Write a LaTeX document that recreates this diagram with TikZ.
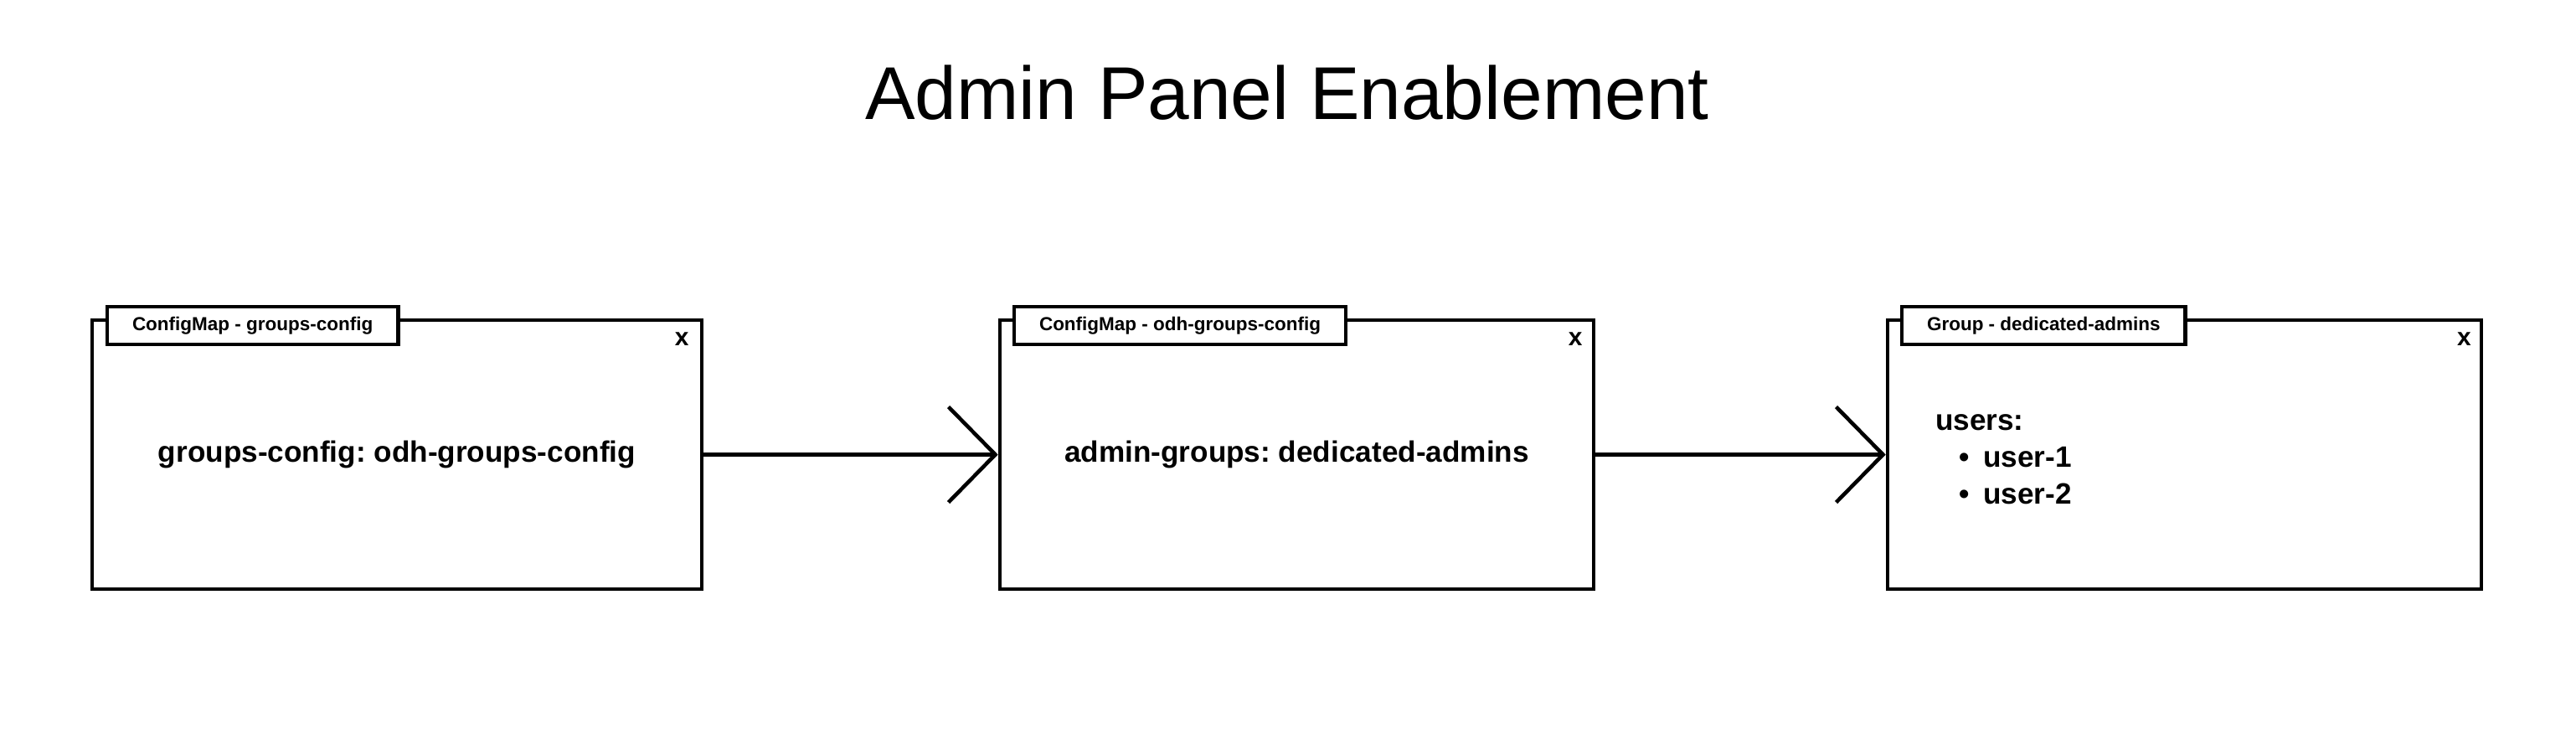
\documentclass[tikz,border=0pt]{standalone}
\usepackage{fontspec}
\setmainfont{Liberation Sans}
\usetikzlibrary{arrows.meta}

\begin{document}
\frenchspacing
\begin{tikzpicture}[
  panel/.style={draw,line width=1.3pt,minimum height=3.21cm,font=\fontsize{10}{12.5}\selectfont\bfseries,align=left},
  tab/.style={draw,fill=white,line width=1.3pt,anchor=north west,minimum height=0.45cm,inner xsep=0.3cm,inner ysep=0pt,font=\fontsize{6.4}{7.5}\selectfont\bfseries},
  shut/.style={font=\fontsize{8.5}{9}\selectfont\bfseries,inner sep=0pt},
  link/.style={line width=1.3pt,-{Straight Barb[length=0.56cm,width=1.14cm]}}]
\useasboundingbox (0,0) rectangle (30.76,-9);
\node[font=\fontsize{25.4}{30}\selectfont,anchor=base] (title) at (15.37,-1.42) {Admin Panel Enablement};
% the three resources
\node[panel,minimum width=7.28cm] (groupscfg) at (4.74,-5.425) {groups-config: odh-groups-config};
\node[panel,minimum width=7.09cm] (odhcfg) at (15.485,-5.425) {admin-groups: dedicated-admins};
\node[panel,minimum width=7.09cm] (admins) at (26.085,-5.425) {};
\node[font=\fontsize{10}{12.5}\selectfont\bfseries,align=left,anchor=west] (userlist)
  at ([xshift=0.47cm,yshift=-0.055cm]admins.west)
  {users:\\\hspace*{0.28cm}\makebox[0.29cm][l]{\textbullet}user-1\\\hspace*{0.28cm}\makebox[0.29cm][l]{\textbullet}user-2};
% title tabs
\node[tab] (groupscfgtab) at ([xshift=0.18cm,yshift=0.16cm]groupscfg.north west) {ConfigMap - groups-config};
\node[tab] (odhcfgtab) at ([xshift=0.17cm,yshift=0.16cm]odhcfg.north west) {ConfigMap - odh-groups-config};
\node[tab] (adminstab) at ([xshift=0.17cm,yshift=0.16cm]admins.north west) {Group - dedicated-admins};
% close marks
\node[shut] (groupscfgx) at ([xshift=-0.26cm,yshift=-0.25cm]groupscfg.north east) {x};
\node[shut] (odhcfgx) at ([xshift=-0.24cm,yshift=-0.25cm]odhcfg.north east) {x};
\node[shut] (adminsx) at ([xshift=-0.23cm,yshift=-0.25cm]admins.north east) {x};
% links
\draw[link] (groupscfg) -- (odhcfg);
\draw[link] (odhcfg) -- (admins);
\end{tikzpicture}
\end{document}
